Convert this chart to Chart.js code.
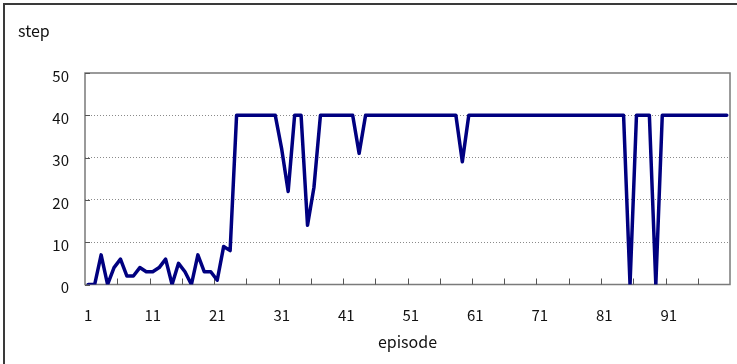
<!DOCTYPE html>
<html>
<head>
<meta charset="utf-8">
<script src="https://cdn.jsdelivr.net/npm/chart.js@4"></script>
<style>
  html, body { margin: 0; padding: 0; background: #fff; overflow: hidden; }
  #wrap { position: absolute; left: 0; top: 0; width: 737px; height: 364px; }
  #frame { position: absolute; left: 3px; top: 3px; width: 800px; height: 400px;
           border-left: 2px solid #3a3a3a; border-top: 2px solid #3a3a3a; pointer-events: none; }
</style>
</head>
<body>
<div id="wrap"><canvas id="chart" width="737" height="364"></canvas></div>
<div id="frame"></div>
<script>
// episode 1..100
let episodes = [];
for (let i = 1; i <= 100; i++) episodes.push(String(i));

// step per episode
let steps = [
  0, 0, 7, 0, 4, 6, 2, 2, 4, 3,
  3, 4, 6, 0, 5, 3, 0, 7, 3, 3,
  1, 9, 8, 40, 40, 40, 40, 40, 40, 40,
  32, 22, 40, 40, 14, 23, 40, 40, 40, 40,
  40, 40, 31, 40, 40, 40, 40, 40, 40, 40,
  40, 40, 40, 40, 40, 40, 40, 40, 29, 40,
  40, 40, 40, 40, 40, 40, 40, 40, 40, 40,
  40, 40, 40, 40, 40, 40, 40, 40, 40, 40,
  40, 40, 40, 40, 0, 40, 40, 40, 0, 40,
  40, 40, 40, 40, 40, 40, 40, 40, 40, 40
];

let yTicks = [0, 10, 20, 30, 40, 50];
let fontName = "'Noto Sans CJK JP', 'Noto Sans', sans-serif";

// plot box, inward tick marks and the "step" caption
const boxPlugin = {
  id: "box",
  beforeDatasetsDraw(chart) {
    const ctx = chart.ctx;
    const a = chart.chartArea;
    const x = chart.scales.x;
    const y = chart.scales.y;
    ctx.save();
    ctx.strokeStyle = "#7a7a7a";
    ctx.lineWidth = 1.5;
    ctx.strokeRect(a.left, a.top, a.right - a.left, a.bottom - a.top);

    ctx.strokeStyle = "#555";
    ctx.lineWidth = 1;
    ctx.beginPath();
    yTicks.forEach(v => {
      const py = Math.round(y.getPixelForValue(v)) + 0.5;
      ctx.moveTo(a.left, py);
      ctx.lineTo(a.left + 5, py);
    });
    // tick marks every 5 episodes, on category boundaries
    const w = x.getPixelForValue(1) - x.getPixelForValue(0);
    for (let i = 5; i < episodes.length; i += 5) {
      const px = Math.round(x.getPixelForValue(i) - w / 2) + 0.5;
      ctx.moveTo(px, a.bottom);
      ctx.lineTo(px, a.bottom - 6);
    }
    ctx.stroke();

    ctx.fillStyle = "#111";
    ctx.font = "16px " + fontName;
    ctx.textBaseline = "middle";
    ctx.textAlign = "left";
    ctx.fillText("step", 18, 31);
    ctx.restore();
  }
};

let ctx = document.getElementById("chart").getContext("2d");
new Chart(ctx, {
  type: "line",
  data: {
    labels: episodes,
    datasets: [{
      label: "step",
      data: steps,
      borderColor: "#000080",
      borderWidth: 3.5,
      borderJoinStyle: "round",
      borderCapStyle: "round",
      pointRadius: 0,
      tension: 0,
      fill: false
    }]
  },
  options: {
    responsive: false,
    animation: false,
    devicePixelRatio: 1,
    layout: { padding: { left: 0, right: 7, top: 73, bottom: 0 } },
    plugins: { legend: { display: false }, tooltip: { enabled: false } },
    scales: {
      x: {
        type: "category",
        offset: true,
        afterFit(scale) {
          scale.height = 79.5;
          scale.paddingLeft = 0;
          scale.paddingRight = 0;
        },
        grid: { display: false, drawTicks: false },
        border: { display: false },
        ticks: {
          autoSkip: false,
          maxRotation: 0,
          padding: 22,
          color: "#111",
          font: { family: fontName, size: 15 },
          callback(val, i) { return i % 10 === 0 ? this.getLabelForValue(val) : ""; }
        },
        title: {
          display: true,
          text: "episode",
          color: "#111",
          font: { family: fontName, size: 16 },
          padding: { top: 0, bottom: 12 }
        }
      },
      y: {
        min: 0,
        max: 50,
        afterFit(scale) { scale.width = 85; },
        afterBuildTicks(scale) { scale.ticks = yTicks.map(v => ({ value: v })); },
        grid: {
          drawTicks: false,
          lineWidth: 1,
          color: c => (c.tick && (c.tick.value === 0 || c.tick.value === 50)) ? "rgba(0,0,0,0)" : "#8a8a8a"
        },
        border: { display: false, dash: [1, 2] },
        ticks: {
          padding: 16,
          labelOffset: 3,
          color: "#111",
          font: { family: fontName, size: 15 }
        }
      }
    }
  },
  plugins: [boxPlugin]
});
</script>
</body>
</html>
